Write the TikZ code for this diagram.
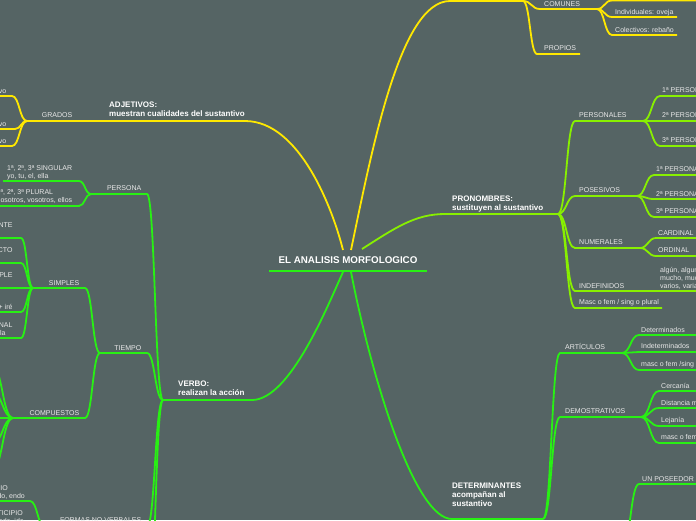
\documentclass[tikz,border=0pt]{standalone}
\usepackage{fontspec}
\setmainfont{Liberation Sans}
\usetikzlibrary{calc}
\definecolor{bg}{RGB}{85,100,100}
\definecolor{yel}{RGB}{255,232,0}
\definecolor{limec}{RGB}{136,240,0}
\definecolor{grn}{RGB}{40,240,20}
\definecolor{txt}{RGB}{232,232,232}
% style, from-junction, name, x start, x end, y
\newcommand\brn[6]{%
  \coordinate (#3a) at (#4,#6);
  \coordinate (#3b) at (#5,#6);
  \draw[#1] let \p1=(#2), \p2=(#3a) in (\p1) .. controls (\x1/2+\x2/2,\y1) and (\x1/2+\x2/2,\y2) .. (\p2) -- (#3b);
}
\tikzset{
  lbl/.style={font=\fontsize{7}{8}\selectfont, text=txt, inner sep=0pt},
  lw/.style={lbl, anchor=base west},
  le/.style={lbl, anchor=base east},
  hd/.style={font=\bfseries\fontsize{8}{9}\selectfont, text=white, inner sep=0pt, anchor=base west},
  yline/.style={draw=yel, line width=1.8pt},
  lline/.style={draw=limec, line width=1.8pt},
  gline/.style={draw=grn, line width=1.8pt},
}
\begin{document}
\begin{tikzpicture}[x=1pt,y=-1pt]
\fill[bg] (0,0) rectangle (696,520);
\useasboundingbox (0,0) rectangle (696,520);

% ---------- root ----------
\node[font=\bfseries\fontsize{9.8}{11}\selectfont, text=white, inner sep=0pt, anchor=base] (root) at (348,263.5) {EL ANALISIS MORFOLOGICO};
\coordinate (ulA) at (269,271);
\coordinate (ulB) at (427,271);
\draw[gline] (ulA) -- (ulB);

\coordinate (rAdj) at (343,250);
\coordinate (rSus) at (351,250);
\coordinate (rPro) at (362,249);
\coordinate (rVer) at (343,272);
\coordinate (rDet) at (351,272);

% ---------- ADJETIVOS ----------
\coordinate (adjE) at (245,121);
\coordinate (adjJ) at (80,121);
\draw[yline] (rAdj) .. controls (333,210) and (300,121) .. (adjE) -- (adjJ);
\node[hd] (adjT1) at (109,107) {ADJETIVOS:};
\node[hd] (adjT2) at (109,116) {muestran cualidades del sustantivo};
\brn{yline}{adjJ}{gra}{78}{27}{121}
\node[le] (graT) at (72.5,117.5) {GRADOS};
\brn{yline}{grab}{g1}{12}{-3}{96}
\brn{yline}{grab}{g2}{15}{-3}{129}
\brn{yline}{grab}{g3}{12}{-3}{146}
\node[le] (g1T) at (6.5,93) {vo};
\node[le] (g2T) at (6.5,126) {vo};
\node[le] (g3T) at (6.5,143) {vo};

% ---------- top (yellow) ----------
\coordinate (susE) at (450,1);
\coordinate (susJ) at (523,1);
\draw[yline] (rSus) .. controls (372,150) and (400,1) .. (susE) -- (susJ);
\brn{yline}{susJ}{com}{540}{597}{9}
\node[lw] (comT) at (544,6) {COMUNES};
\brn{yline}{susJ}{pro2}{537}{580}{54}
\node[lw] (pro2T) at (544,50.5) {PROPIOS};
\brn{yline}{comb}{c0}{612}{700}{0.5}
\brn{yline}{comb}{c1}{612}{677}{17}
\node[lw] (c1T) at (615,14.5) {Individuales: oveja};
\brn{yline}{comb}{c2}{612}{677}{35}
\node[lw] (c2T) at (615,32) {Colectivos: rebaño};

% ---------- PRONOMBRES ----------
\coordinate (proE) at (445,214);
\coordinate (proJ) at (558,214);
\draw[lline] (rPro) .. controls (395,228) and (415,214) .. (proE) -- (proJ);
\node[hd] (proT1) at (452,201) {PRONOMBRES:};
\node[hd] (proT2) at (452,210) {sustituyen al sustantivo};
\brn{lline}{proJ}{per}{575}{643}{121}
\node[lw] (perT) at (579,117.5) {PERSONALES};
\brn{lline}{perb}{p1}{660}{700}{96}
\brn{lline}{perb}{p2}{660}{700}{121}
\brn{lline}{perb}{p3}{660}{700}{146}
\node[lw] (p1T) at (662,92.5) {1ª PERSONA};
\node[lw] (p2T) at (662,117.5) {2ª PERSONA};
\node[lw] (p3T) at (662,142.5) {3ª PERSONA};
\brn{lline}{proJ}{pos}{575}{637}{196}
\node[lw] (posT) at (579,192.5) {POSESIVOS};
\brn{lline}{posb}{q1}{654}{700}{175}
\brn{lline}{posb}{q2}{654}{700}{199}
\brn{lline}{posb}{q3}{654}{700}{217}
\node[lw] (q1T) at (656,171) {1ª PERSONA};
\node[lw] (q2T) at (656,196.5) {2ª PERSONA};
\node[lw] (q3T) at (656,213.5) {3ª PERSONA};
\brn{lline}{proJ}{num}{575}{640}{248}
\node[lw] (numT) at (579,244.5) {NUMERALES};
\brn{lline}{numb}{n1}{656}{700}{238}
\brn{lline}{numb}{n2}{656}{700}{256}
\node[lw] (n1T) at (658,235) {CARDINAL};
\node[lw] (n2T) at (658,252.5) {ORDINAL};
\brn{lline}{proJ}{ind}{575}{700}{291}
\node[lw] (indT) at (579,288) {INDEFINIDOS};
\node[lw] (indA) at (660,272) {algún, alguno};
\node[lw] (indB) at (660,280) {mucho, mucha};
\node[lw] (indC) at (660,288) {varios, varias};
\brn{lline}{proJ}{mas}{575}{662}{308}
\node[lw] (masT) at (579,304.5) {Masc o fem / sing o plural};

% ---------- DETERMINANTES ----------
\coordinate (detE) at (452,519);
\coordinate (detJ) at (543,519);
\draw[gline] (rDet) .. controls (372,380) and (415,519) .. (detE) -- (detJ);
\node[hd] (detT1) at (452,488) {DETERMINANTES};
\node[hd] (detT2) at (452,497) {acompañan al};
\node[hd] (detT3) at (452,506) {sustantivo};
\brn{gline}{detJ}{art}{560}{622}{353}
\node[lw] (artT) at (565,349.5) {ARTÍCULOS};
\brn{gline}{artb}{a1}{639}{700}{335}
\brn{gline}{artb}{a2}{639}{700}{352}
\brn{gline}{artb}{a3}{639}{700}{370}
\node[lw] (a1T) at (641,332) {Determinados};
\node[lw] (a2T) at (641,348.5) {Indeterminados};
\node[lw] (a3T) at (641,366) {masc o fem /sing};
\brn{gline}{detJ}{dem}{560}{641}{417}
\node[lw] (demT) at (565,413.5) {DEMOSTRATIVOS};
\brn{gline}{demb}{d1}{659}{700}{391}
\brn{gline}{demb}{d2}{659}{700}{408}
\brn{gline}{demb}{d3}{659}{700}{426}
\brn{gline}{demb}{d4}{659}{700}{443}
\node[lw] (d1T) at (661,388) {Cercanía};
\node[lw] (d2T) at (661,405) {Distancia media};
\node[lw] (d3T) at (661,422) {Lejanía};
\node[lw] (d4T) at (661,439) {masc o fem /sing};
\coordinate (posJ) at (622,548);
\brn{gline}{posJ}{un}{639}{700}{484}
\node[lw] (unT) at (642,481) {UN POSEEDOR};

% ---------- VERBO ----------
\coordinate (verE) at (252,400);
\coordinate (verJ) at (163,400);
\draw[gline] (rVer) .. controls (328,305) and (290,400) .. (verE) -- (verJ);
\node[hd] (verT1) at (178,386) {VERBO:};
\node[hd] (verT2) at (178,395) {realizan la acción};
% persona
\brn{gline}{verJ}{pers}{147}{91}{194}
\node[le] (persT) at (141.5,190.5) {PERSONA};
\brn{gline}{persb}{s1}{79}{3}{181}
\brn{gline}{persb}{s2}{79}{-3}{206}
\node[lw] (s1T1) at (7,170) {1ª, 2ª, 3ª SINGULAR};
\node[lw] (s1T2) at (7,178) {yo, tu, el, ella};
\node[lw] (s2T1) at (-3.5,194.5) {1ª, 2ª, 3ª PLURAL};
\node[lw] (s2T2) at (-3.5,202.5) {nosotros, vosotros, ellos};
% tiempo
\brn{gline}{verJ}{tie}{147}{100}{353}
\node[le] (tieT) at (141.5,350) {TIEMPO};
\brn{gline}{tieb}{sim}{85}{33}{288}
\node[le] (simT) at (79.5,285) {SIMPLES};
\brn{gline}{simb}{k1}{21}{-3}{238}
\brn{gline}{simb}{k2}{21}{-3}{263}
\brn{gline}{simb}{k3}{21}{-3}{288}
\brn{gline}{simb}{k4}{21}{-3}{312}
\brn{gline}{simb}{k5}{21}{-3}{338}
\node[le] (k1T) at (12.7,227) {NTE};
\node[le] (k2T) at (12.7,252) {CTO};
\node[le] (k3T) at (12.7,277) {PLE};
\node[le] (k4T) at (12.7,309.5) {+ iré};
\node[le] (k5T) at (12.7,327) {NAL};
\node[le] (k5U) at (5.7,335) {la};
\brn{gline}{tieb}{cmp}{85}{13}{418}
\node[le] (cmpT) at (79.5,415) {COMPUESTOS};
\brn{gline}{cmpb}{m1}{-8}{-20}{366}
\brn{gline}{cmpb}{m2}{-8}{-20}{392}
\brn{gline}{cmpb}{m3}{-8}{-20}{418}
\brn{gline}{cmpb}{m4}{-8}{-20}{444}
\brn{gline}{cmpb}{m5}{-8}{-20}{470}
% formas no verbales
\brn{gline}{verJ}{frm}{147}{45}{527}
\node[le] (frmT) at (141.5,522.5) {FORMAS NO VERBALES};
\brn{gline}{frmb}{ger}{30}{-3}{501}
\node[le] (gerT1) at (8,490) {IO};
\node[le] (gerT2) at (25,498) {do, endo};
\node[le] (parT1) at (23,515) {TICIPIO};
\node[le] (parT2) at (24,523) {ado, ido};
\brn{gline}{verJ}{vx}{147}{60}{640}
\end{tikzpicture}
\end{document}
